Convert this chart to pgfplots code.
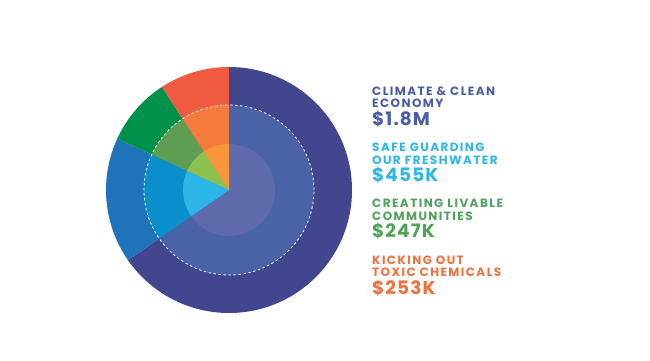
\documentclass[border=0pt]{standalone}
\usepackage{pgfplots}
\pgfplotsset{compat=1.18}
\usepackage{pgfplotstable}
\usepackage{fontspec}
\setmainfont{Poppins}
\newfontfamily\tfont{Poppins}[LetterSpace=12]
\newfontfamily\vfont{Poppins}[LetterSpace=6]
\definecolor{oA}{HTML}{42468F}
\definecolor{oB}{HTML}{1F74B9}
\definecolor{oC}{HTML}{00924A}
\definecolor{oD}{HTML}{F05A40}
\definecolor{mA}{HTML}{4A63A7}
\definecolor{mB}{HTML}{0A8FCD}
\definecolor{mC}{HTML}{5E9D52}
\definecolor{mD}{HTML}{F47B3B}
\definecolor{iA}{HTML}{5F6AAC}
\definecolor{iB}{HTML}{2CB6E7}
\definecolor{iC}{HTML}{8CC152}
\definecolor{iD}{HTML}{F8963B}
\definecolor{tA}{HTML}{4A5CA6}
\definecolor{tB}{HTML}{2DB7E9}
\definecolor{tC}{HTML}{4FA25A}
\definecolor{tD}{HTML}{F36F3C}
\newcommand\sector[4]{\fill[#1] (axis cs:0,0) -- ++(#3:#2pt) arc[start angle=#3, end angle=#4, radius=#2pt] -- cycle;}
\begin{document}%
\begin{tikzpicture}
\pgfplotstableread{
label value
Climate 1800
Freshwater 455
Livable 247
Toxic 253
}\datatable
\pgfplotstablegetelem{0}{value}\of\datatable\let\va\pgfplotsretval
\pgfplotstablegetelem{1}{value}\of\datatable\let\vb\pgfplotsretval
\pgfplotstablegetelem{2}{value}\of\datatable\let\vc\pgfplotsretval
\pgfplotstablegetelem{3}{value}\of\datatable\let\vd\pgfplotsretval
\pgfmathsetmacro\tot{\va+\vb+\vc+\vd}
\pgfmathsetmacro\aA{90}
\pgfmathsetmacro\aB{\aA-360*(\va/\tot)}
\pgfmathsetmacro\aC{\aB-360*(\vb/\tot)}
\pgfmathsetmacro\aD{\aC-360*(\vc/\tot)}
\pgfmathsetmacro\aE{\aD-360*(\vd/\tot)}
\begin{axis}[hide axis, x=1pt, y=1pt, xmin=-229, xmax=421, ymin=-170, ymax=190, clip=false, scale only axis]
\coordinate (bl) at (axis cs:-229,-170);
\coordinate (tr) at (axis cs:421,190);
\sector{oA}{123}{\aA}{\aB}
\sector{oB}{123}{\aB}{\aC}
\sector{oC}{123}{\aC}{\aD}
\sector{oD}{123}{\aD}{\aE}
\sector{mA}{85}{\aA}{\aB}
\sector{mB}{85}{\aB}{\aC}
\sector{mC}{85}{\aC}{\aD}
\sector{mD}{85}{\aD}{\aE}
\sector{iA}{46}{\aA}{\aB}
\sector{iB}{46}{\aB}{\aC}
\sector{iC}{46}{\aC}{\aD}
\sector{iD}{46}{\aD}{\aE}
\draw[white, dash pattern=on 2.5pt off 2.5pt, line width=0.8pt] (axis cs:0,0) circle[radius=85pt];
\tikzset{t/.style={anchor=base west, inner sep=0pt, font=\fontsize{12}{12}\tfont\bfseries}, v/.style={anchor=base west, inner sep=0pt, font=\fontsize{18.5}{18.5}\vfont\bfseries}}
\node[t, text=tA] at (axis cs:143,95) {CLIMATE \& CLEAN};
\node[t, text=tA] at (axis cs:143,82.5) {ECONOMY};
\node[v, text=tA] at (axis cs:143,65) {\$1.8M};
\node[t, text=tB] at (axis cs:143,38.3) {SAFE GUARDING};
\node[t, text=tB] at (axis cs:143,25.8) {OUR FRESHWATER};
\node[v, text=tB] at (axis cs:143,8.3) {\$455K};
\node[t, text=tC] at (axis cs:143,-17.7) {CREATING LIVABLE};
\node[t, text=tC] at (axis cs:143,-30.2) {COMMUNITIES};
\node[v, text=tC] at (axis cs:143,-47.7) {\$247K};
\node[t, text=tD] at (axis cs:143,-74) {KICKING OUT};
\node[t, text=tD] at (axis cs:143,-86.5) {TOXIC CHEMICALS};
\node[v, text=tD] at (axis cs:143,-104) {\$253K};
\end{axis}
\pgfresetboundingbox
\path (bl) rectangle (tr);
\end{tikzpicture}%
\end{document}
